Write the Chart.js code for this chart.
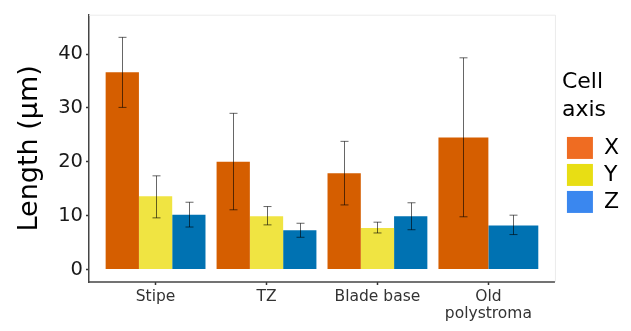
<!DOCTYPE html>
<html>
<head>
<meta charset="utf-8">
<script src="https://cdn.jsdelivr.net/npm/chart.js@4.4.1/dist/chart.umd.min.js"></script>
<style>
  html, body { margin: 0; padding: 0; background: #fff; }
</style>
</head>
<body>
<canvas id="chart" width="631" height="331"></canvas>
<script>
// categories (x positions 0..3) and tick labels
var categories = ['Stipe', 'TZ', 'Blade base', 'Old polystroma'];
var xTickLabels = [['Stipe'], ['TZ'], ['Blade base'], ['Old', 'polystroma']];
var yTicks = [0, 10, 20, 30, 40];

// mean cell length (µm) per axis
var xMean = [36.6, 20.0, 17.9, 24.5];
var yMean = [13.6, 9.9, 7.7, null];
var zMean = [10.2, 7.3, 9.9, 8.2];

// error bar ends
var xLow = [30.1, 11.1, 12.0, 9.8];
var xHigh = [43.1, 29.0, 23.8, 39.3];
var yLow = [9.6, 8.3, 6.8, null];
var yHigh = [17.4, 11.7, 8.8, null];
var zLow = [7.9, 6.0, 7.4, 6.5];
var zHigh = [12.5, 8.6, 12.4, 10.1];

var seriesNames = ['X', 'Y', 'Z'];
var barColors = ['#D55E00', '#F0E442', '#0072B2'];
var keyColors = ['#EF6C22', '#E8DE14', '#3A87EF'];

function points(arr) {
    return arr.map(function(v, i) { return {x: i, y: v}; });
}

var errLow = [xLow, yLow, zLow];
var errHigh = [xHigh, yHigh, zHigh];

// ggplot-ish panel: light top/right border + bottom axis line
var panelPlugin = {
    id: 'panel',
    beforeDatasetsDraw: function(chart) {
        var ctx = chart.ctx, a = chart.chartArea;
        var right = chart.scales.x.getPixelForValue(3.6);
        ctx.save();
        ctx.strokeStyle = '#EBEBEB';
        ctx.lineWidth = 1;
        ctx.beginPath();
        ctx.moveTo(a.left, a.top + 0.5);
        ctx.lineTo(right + 0.5, a.top + 0.5);
        ctx.lineTo(right + 0.5, a.bottom);
        ctx.stroke();
        ctx.strokeStyle = '#444';
        ctx.lineWidth = 1.5;
        ctx.beginPath();
        ctx.moveTo(a.left, a.bottom);
        ctx.lineTo(right, a.bottom);
        ctx.stroke();
        ctx.restore();
    }
};

var errorBarPlugin = {
    id: 'errorBars',
    afterDatasetsDraw: function(chart) {
        var ctx = chart.ctx;
        var yScale = chart.scales.y;
        ctx.save();
        ctx.strokeStyle = 'rgba(0,0,0,0.6)';
        ctx.lineWidth = 1;
        chart.data.datasets.forEach(function(ds, d) {
            var meta = chart.getDatasetMeta(d);
            meta.data.forEach(function(bar, i) {
                var lo = errLow[d][i], hi = errHigh[d][i];
                if (lo == null || hi == null) return;
                var x = Math.round(bar.x) + 0.5;
                var y1 = yScale.getPixelForValue(lo);
                var y2 = yScale.getPixelForValue(hi);
                ctx.beginPath();
                ctx.moveTo(x, y1); ctx.lineTo(x, y2);
                ctx.moveTo(x - 4, y1); ctx.lineTo(x + 4, y1);
                ctx.moveTo(x - 4, y2); ctx.lineTo(x + 4, y2);
                ctx.stroke();
            });
        });
        ctx.restore();
    }
};

var ctx = document.getElementById('chart').getContext('2d');
var chart = new Chart(ctx, {
    type: 'bar',
    data: {
        datasets: [
            { label: 'X', data: points(xMean), backgroundColor: barColors[0] },
            { label: 'Y', data: points(yMean), backgroundColor: barColors[1] },
            { label: 'Z', data: points(zMean), backgroundColor: barColors[2] }
        ]
    },
    options: {
        responsive: false,
        animation: false,
        skipNull: true,
        barPercentage: 1,
        categoryPercentage: 0.9,
        layout: { padding: { top: 5, right: 2, bottom: 0, left: 0 } },
        scales: {
            x: {
                type: 'linear',
                min: -0.6,
                max: 3.663,
                offset: false,
                afterBuildTicks: function(axis) {
                    axis.ticks = categories.map(function(c, i) { return {value: i}; });
                },
                afterFit: function(axis) { axis.height = 49; },
                border: { display: false },
                grid: { offset: false, drawOnChartArea: false, drawTicks: true, tickLength: 3, tickColor: '#333', tickWidth: 1.5 },
                ticks: {
                    padding: 3,
                    color: '#333',
                    maxRotation: 0,
                    autoSkip: false,
                    font: { family: 'DejaVu Sans', size: 15.5, lineHeight: 1.1 },
                    callback: function(value) { return xTickLabels[value]; }
                }
            },
            y: {
                min: -2.3,
                max: 47.3,
                afterBuildTicks: function(axis) {
                    axis.ticks = yTicks.map(function(v) { return {value: v}; });
                },
                afterFit: function(axis) { axis.width = 89; },
                border: { display: true, color: '#444', width: 1.5 },
                grid: { drawOnChartArea: false, drawTicks: true, tickLength: 3, tickColor: '#333', tickWidth: 1.5 },
                ticks: {
                    padding: 3,
                    color: '#1a1a1a',
                    font: { family: 'DejaVu Sans', size: 19.5 }
                },
                title: {
                    display: true,
                    text: 'Length (µm)',
                    color: '#000',
                    font: { family: 'DejaVu Sans', size: 27 },
                    padding: { top: 14, bottom: 0 }
                }
            }
        },
        plugins: {
            legend: {
                position: 'right',
                align: 'start',
                title: {
                    display: true,
                    text: ['Cell', 'axis'],
                    position: 'start',
                    color: '#000',
                    font: { family: 'DejaVu Sans', size: 22, lineHeight: 1.27 },
                    padding: { top: 66, bottom: 33 }
                },
                labels: {
                    boxWidth: 26,
                    boxHeight: 22,
                    padding: 5,
                    color: '#000',
                    font: { family: 'DejaVu Sans', size: 22 },
                    generateLabels: function(chart) {
                        return seriesNames.map(function(n, i) {
                            return { text: n, fillStyle: keyColors[i], strokeStyle: keyColors[i], lineWidth: 0, datasetIndex: i };
                        });
                    }
                }
            },
            tooltip: { enabled: false }
        }
    },
    plugins: [panelPlugin, errorBarPlugin]
});
</script>
</body>
</html>
